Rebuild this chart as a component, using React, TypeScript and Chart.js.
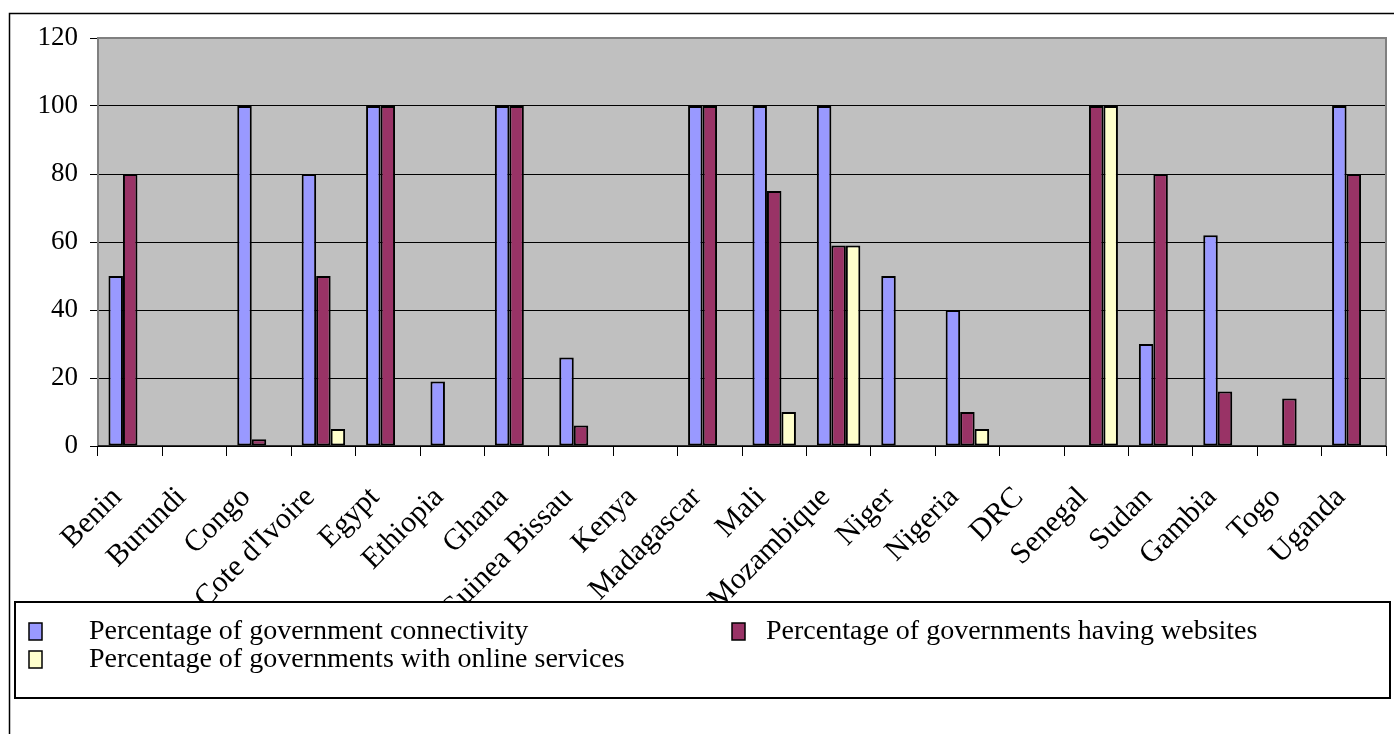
import React, { useEffect, useRef } from "react";
import { Chart, registerables } from "chart.js";

Chart.register(...registerables);

const categories = [
  "Benin", "Burundi", "Congo", "Cote d'Ivoire", "Egypt", "Ethiopia", "Ghana",
  "Guinea Bissau", "Kenya", "Madagascar", "Mali", "Mozambique", "Niger",
  "Nigeria", "DRC", "Senegal", "Sudan", "Gambia", "Togo", "Uganda",
];
const connectivity = [50, null, 100, 80, 100, 19, 100, 26, null, 100, 100, 100, 50, 40, null, null, 30, 62, null, 100];
const websites = [80, null, 2, 50, 100, null, 100, 6, null, 100, 75, 59, null, 10, null, 100, 80, 16, 14, 80];
const onlineServices = [null, null, null, 5, null, null, null, null, null, null, 10, 59, null, 5, null, 100, null, null, null, null];
const yTicks = [0, 20, 40, 60, 80, 100, 120];
const seriesLabels = [
  "Percentage of government connectivity",
  "Percentage of governments having websites",
  "Percentage of governments with online services",
];
const seriesColors = ["#9999FF", "#993366", "#FFFFCC"];

const FONT = "'Liberation Serif', 'Times New Roman', serif";
const W = 1394;
const H = 734;

const framePlugin = {
  id: "frame",
  beforeDraw(chart: any) {
    const { ctx, chartArea } = chart;
    ctx.save();
    ctx.strokeStyle = "#000";
    ctx.lineWidth = 1.5;
    ctx.beginPath();
    ctx.moveTo(9.5, H);
    ctx.lineTo(9.5, 13.5);
    ctx.lineTo(W, 13.5);
    ctx.stroke();
    ctx.fillStyle = "#C0C0C0";
    ctx.fillRect(chartArea.left, chartArea.top, chartArea.right - chartArea.left, chartArea.bottom - chartArea.top);
    ctx.restore();
  },
  beforeDatasetsDraw(chart: any) {
    const { ctx, chartArea } = chart;
    ctx.save();
    ctx.strokeStyle = "#808080";
    ctx.lineWidth = 2;
    ctx.beginPath();
    ctx.moveTo(chartArea.left, chartArea.bottom);
    ctx.lineTo(chartArea.left, chartArea.top);
    ctx.lineTo(chartArea.right, chartArea.top);
    ctx.lineTo(chartArea.right, chartArea.bottom);
    ctx.stroke();
    ctx.strokeStyle = "#000";
    ctx.lineWidth = 1.5;
    ctx.beginPath();
    ctx.moveTo(chartArea.left, chartArea.bottom);
    ctx.lineTo(chartArea.right, chartArea.bottom);
    ctx.stroke();
    ctx.restore();
  },
  afterDraw(chart: any) {
    const { ctx } = chart;
    ctx.save();
    const bx = 15, by = 602, bw = 1390 - 15, bh = 698 - 602;
    ctx.fillStyle = "#fff";
    ctx.fillRect(bx, by, bw, bh);
    ctx.strokeStyle = "#000";
    ctx.lineWidth = 2;
    ctx.strokeRect(bx, by, bw, bh);
    const items = [
      { i: 0, mx: 29, tx: 89, y: 631 },
      { i: 1, mx: 732, tx: 766, y: 631 },
      { i: 2, mx: 29, tx: 89, y: 659 },
    ];
    ctx.font = `28px ${FONT}`;
    ctx.textBaseline = "middle";
    ctx.textAlign = "left";
    for (const it of items) {
      const ds = chart.data.datasets[it.i];
      ctx.fillStyle = ds.backgroundColor;
      ctx.fillRect(it.mx, it.y - 8, 13, 17);
      ctx.strokeStyle = "#000";
      ctx.lineWidth = 1.5;
      ctx.strokeRect(it.mx, it.y - 8, 13, 17);
      ctx.fillStyle = "#000";
      ctx.fillText(ds.label, it.tx, it.y + 1);
    }
    ctx.restore();
  },
};

export default function App() {
  const ref = useRef<HTMLCanvasElement | null>(null);
  useEffect(() => {
    if (!ref.current) return;
    const chart = new Chart(ref.current, {
      type: "bar",
      data: {
        labels: categories,
        datasets: [connectivity, websites, onlineServices].map((d, i) => ({
          label: seriesLabels[i],
          data: d,
          backgroundColor: seriesColors[i],
          borderColor: "#000",
          borderWidth: 2,
          borderSkipped: false,
          categoryPercentage: 0.675,
          barPercentage: 1,
        })),
      },
      options: {
        responsive: false,
        animation: false,
        layout: { padding: { left: 10, top: 38, right: 8, bottom: 0 } },
        plugins: { legend: { display: false }, tooltip: { enabled: false }, title: { display: false } },
        scales: {
          x: {
            offset: true,
            grid: {
              offset: true,
              drawOnChartArea: false,
              drawTicks: true,
              tickLength: 10,
              tickColor: "#000",
              lineWidth: 1,
            },
            border: { display: false },
            ticks: {
              color: "#000",
              font: { family: FONT, size: 30 },
              minRotation: 45,
              maxRotation: 45,
              autoSkip: false,
              padding: 24,
              labelOffset: -13,
            },
            afterFit: (s: any) => {
              s.height = H - 446;
              s.paddingLeft = 0;
              s.paddingRight = 0;
            },
          },
          y: {
            min: 0,
            max: 120,
            afterBuildTicks: (s: any) => { s.ticks = yTicks.map((v) => ({ value: v })); },
            grid: {
              color: (c: any) => (c.tick && c.tick.value === 120 ? "#808080" : "#000"),
              lineWidth: 1,
              tickLength: 8,
              tickColor: "#000",
            },
            border: { display: false },
            ticks: {
              color: "#000",
              font: { family: FONT, size: 27 },
              padding: 12,
            },
            afterFit: (s: any) => { s.width = 88; },
          },
        },
      },
      plugins: [framePlugin],
    });
    return () => chart.destroy();
  }, []);
  return (
    <div style={{ position: "absolute", left: 0, top: 0, width: W, height: H, background: "#fff" }}>
      <canvas ref={ref} width={W} height={H} style={{ width: W, height: H, display: "block" }} />
    </div>
  );
}
